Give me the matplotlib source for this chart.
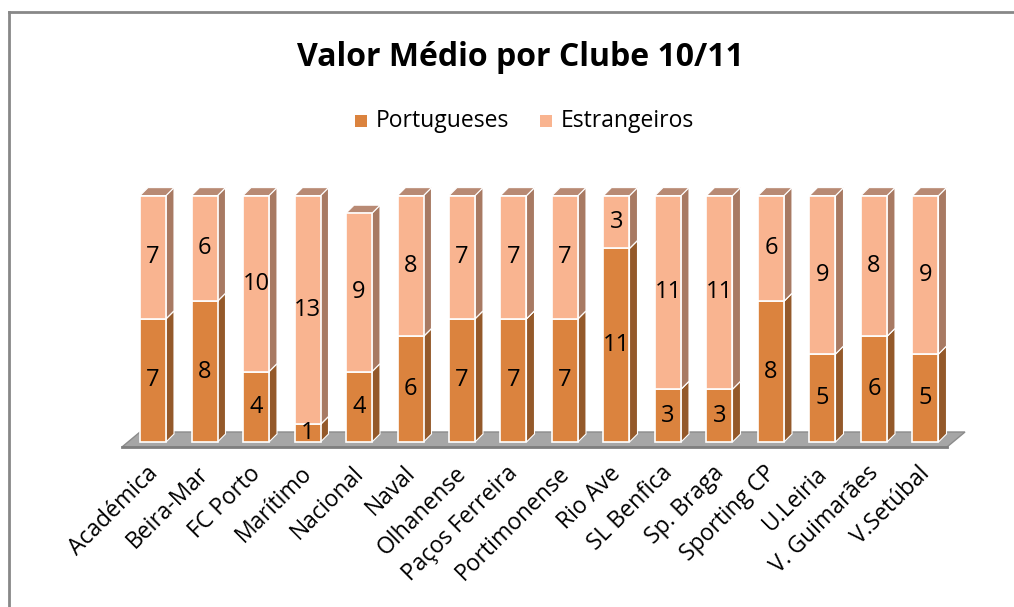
import numpy as np
import matplotlib.pyplot as plt
from matplotlib.patches import Polygon

plt.rcParams['font.family'] = ['Open Sans', 'DejaVu Sans']

# dados
clubes = ["Académica", "Beira-Mar", "FC Porto", "Marítimo", "Nacional", "Naval",
          "Olhanense", "Paços Ferreira", "Portimonense", "Rio Ave", "SL Benfica",
          "Sp. Braga", "Sporting CP", "U.Leiria", "V. Guimarães", "V.Setúbal"]
portugueses = [7, 8, 4, 1, 4, 6, 7, 7, 7, 11, 3, 3, 8, 5, 6, 5]
estrangeiros = [7, 6, 10, 13, 9, 8, 7, 7, 7, 3, 11, 11, 6, 9, 8, 9]
series = ["Portugueses", "Estrangeiros"]

# cores (frente, lado, topo)
cores = {
    "Portugueses": ("#DB833E", "#94592A", "#B5703C"),
    "Estrangeiros": ("#F9B490", "#A87A63", "#B88A74"),
}

W, H = 1014, 607
fig = plt.figure(figsize=(W / 100, H / 100), dpi=100)

# eixo em coordenadas de pixel aproximadas
px_left, px_right, px_bottom, px_top = 110, 980, 470, 170
ax = fig.add_axes([px_left / W, 1 - px_bottom / H, (px_right - px_left) / W, (px_bottom - px_top) / H])
cx0, cstep = 153, 51.5      # centro do primeiro clube e passo (px)
base_px, unit_px = 442, 17.6
ax.set_xlim((px_left - cx0) / cstep, (px_right - cx0) / cstep)
ax.set_ylim((base_px - px_bottom) / unit_px, (base_px - px_top) / unit_px)
ax.axis('off')

largura = 26 / cstep
dx = 8 / cstep
dy = 8 / unit_px
x = np.arange(len(clubes))

# chao
fx0, fx1 = (122 - cx0) / cstep, (947 - cx0) / cstep
fy0, fy1 = (base_px - 447) / unit_px, (base_px - 432) / unit_px
fdx = 18 / cstep
ax.add_patch(Polygon([(fx0, fy0), (fx1, fy0), (fx1 + fdx, fy1), (fx0 + fdx, fy1)],
                     closed=True, facecolor="#A6A6A6", edgecolor="#8C8C8C", lw=1, zorder=1))
ax.plot([fx0, fx1], [fy0, fy0], color="#7F7F7F", lw=2, zorder=1)

bottoms = np.zeros(len(clubes))
for nome, vals in zip(series, [portugueses, estrangeiros]):
    frente, lado, topo = cores[nome]
    vals = np.array(vals, dtype=float)
    ax.bar(x, vals, largura, bottom=bottoms, color=frente, edgecolor="white", lw=1.2, zorder=3)
    for i in range(len(clubes)):
        xr = x[i] + largura / 2
        xl = x[i] - largura / 2
        b, t = bottoms[i], bottoms[i] + vals[i]
        ax.add_patch(Polygon([(xr, b), (xr + dx, b + dy), (xr + dx, t + dy), (xr, t)],
                             closed=True, facecolor=lado, edgecolor="white", lw=0.8, zorder=2))
        ax.add_patch(Polygon([(xl, t), (xr, t), (xr + dx, t + dy), (xl + dx, t + dy)],
                             closed=True, facecolor=topo, edgecolor="white", lw=0.8, zorder=2))
        ax.text(x[i], b + vals[i] / 2, f"{int(vals[i])}", ha='center', va='center',
                fontsize=17, color="black", zorder=4)
    bottoms = bottoms + vals

# rotulos do eixo x
for i, nome in enumerate(clubes):
    ax.text(x[i] + 0.02, (base_px - 470) / unit_px, nome, rotation=45, rotation_mode='anchor',
            ha='right', va='center', fontsize=16.5, color="black")

# titulo e legenda
fig.text(520 / W, 1 - 57 / H, "Valor Médio por Clube 10/11", ha='center', va='center',
         fontsize=23, fontweight='bold')
for nome, lx in zip(series, [355, 540]):
    fig.patches.append(plt.Rectangle((lx / W, 1 - 127 / H), 12 / W, 12 / H,
                                     transform=fig.transFigure, facecolor=cores[nome][0],
                                     edgecolor='none'))
    fig.text((lx + 21) / W, 1 - 121 / H, nome, ha='left', va='center', fontsize=16.5)

# moldura
fig.add_artist(plt.Line2D([8.5 / W, 8.5 / W], [0, 1 - 12 / H], color="#888888", lw=2))
fig.add_artist(plt.Line2D([8.5 / W, 1], [1 - 12 / H, 1 - 12 / H], color="#888888", lw=2))

fig.savefig("out.png", dpi=100)
